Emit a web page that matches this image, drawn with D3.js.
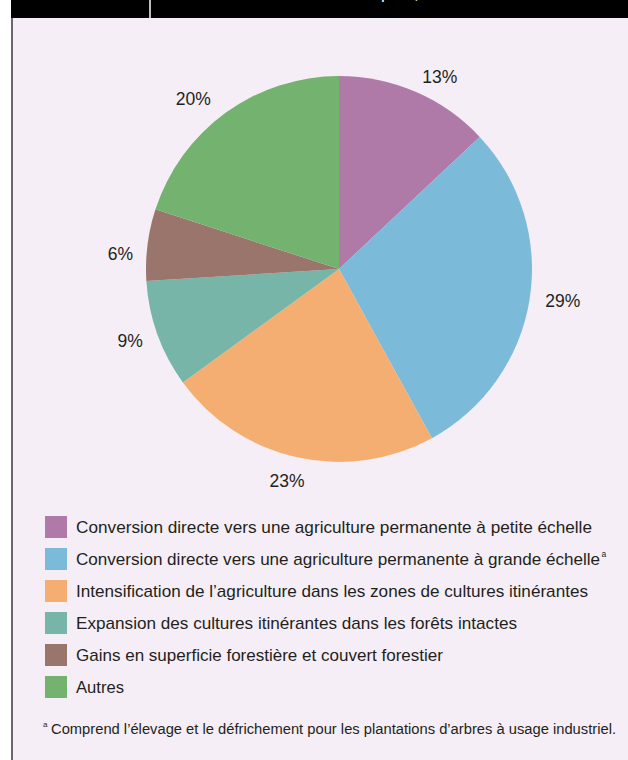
<!DOCTYPE html>
<html><head><meta charset="utf-8">
<script src="https://cdn.jsdelivr.net/npm/d3@7"></script>
<style>
html,body{margin:0;padding:0;background:#fff;}
svg{display:block;}
text{font-family:"Liberation Sans",Arial,Helvetica,sans-serif;fill:#231f20;}
</style></head>
<body>
<script>
const categories = [
  "Conversion directe vers une agriculture permanente à petite échelle",
  "Conversion directe vers une agriculture permanente à grande échelle",
  "Intensification de l’agriculture dans les zones de cultures itinérantes",
  "Expansion des cultures itinérantes dans les forêts intactes",
  "Gains en superficie forestière et couvert forestier",
  "Autres"
];
const values = [13, 29, 23, 9, 6, 20];
const colors = ["#b07aa8", "#7bbbd9", "#f5ae72", "#76b5a7", "#9a756c", "#73b26f"];
const superscripts = ["", "a", "", "", "", ""];
const footnote = "Comprend l’élevage et le défrichement pour les plantations d’arbres à usage industriel.";

// layout-only settings (not data)
const legendWidths = [516, 524, 512, 441, 367, 48];
const labelAngleNudgeDeg = [4.3, -0.9, 1.2, 0.8, -3.3, -4.6];
const labelRadius = [217, 226, 218, 221, 219, 224];

const W = 628, H = 760;
const svg = d3.select("body").append("svg").attr("width", W).attr("height", H);

// panel
svg.append("rect").attr("x", 12).attr("y", 0).attr("width", W - 12).attr("height", H).attr("fill", "#f5eef6");
svg.append("line").attr("x1", 12).attr("x2", 12).attr("y1", 0).attr("y2", H).attr("stroke", "#3a3a3a").attr("stroke-width", 1.5);
// header bar
svg.append("rect").attr("x", 11).attr("y", 0).attr("width", W - 11).attr("height", 18).attr("fill", "#000");
svg.append("line").attr("x1", 150).attr("x2", 150).attr("y1", 0).attr("y2", 18).attr("stroke", "#fff").attr("stroke-width", 1.5);
svg.append("text").attr("x", 381).attr("y", -1).style("font-size", "17px").style("fill", "#fff").text("pour,");

// pie
const cx = 339, cy = 269, R = 193;
const pie = d3.pie().sort(null).value(d => d.v);
const arcs = pie(values.map((v, i) => ({v, i})));
const arc = d3.arc().innerRadius(0).outerRadius(R);
const g = svg.append("g").attr("transform", `translate(${cx},${cy})`);
g.selectAll("path").data(arcs).join("path")
  .attr("d", arc).attr("fill", d => colors[d.data.i]);
g.selectAll("text").data(arcs).join("text")
  .attr("transform", d => {
    const i = d.data.i;
    const a = (d.startAngle + d.endAngle) / 2 + labelAngleNudgeDeg[i] * Math.PI / 180;
    const r = labelRadius[i];
    return `translate(${r * Math.sin(a)},${-r * Math.cos(a)})`;
  })
  .attr("text-anchor", "middle").attr("dy", "0.35em")
  .style("font-size", "17.5px")
  .text(d => d.data.v + "%");

// legend
const ly = d3.scalePoint().domain(d3.range(categories.length)).range([527, 687]);
const lg = svg.append("g");
categories.forEach((c, i) => {
  lg.append("rect").attr("x", 45).attr("y", ly(i) - 11).attr("width", 22).attr("height", 22).attr("fill", colors[i]);
  lg.append("text").attr("x", 76).attr("y", ly(i)).attr("dy", "0.35em")
    .style("font-size", "17px")
    .attr("textLength", legendWidths[i]).attr("lengthAdjust", "spacingAndGlyphs")
    .text(c);
  if (superscripts[i]) {
    lg.append("text").attr("x", 76 + legendWidths[i] + 1.5).attr("y", ly(i) - 2)
      .style("font-size", "8.5px").text(superscripts[i]);
  }
});
// footnote
svg.append("text").attr("x", 43).attr("y", 727).style("font-size", "8px").text("a");
svg.append("text").attr("x", 51).attr("y", 729).attr("dy", "0.35em").style("font-size", "14px")
  .attr("textLength", 565).attr("lengthAdjust", "spacingAndGlyphs").text(footnote);
</script>
</body></html>
